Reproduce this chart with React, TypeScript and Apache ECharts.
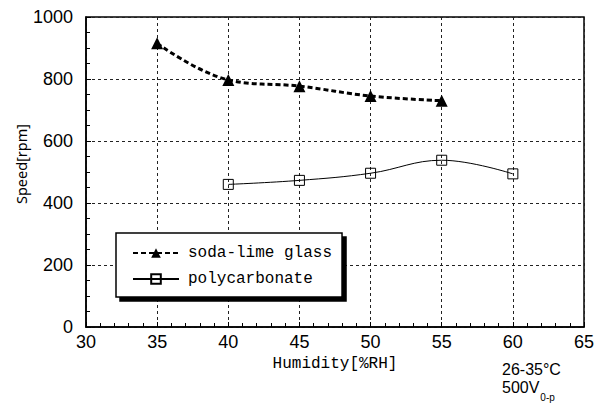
import React, { useEffect, useRef } from "react";
import * as echarts from "echarts";

const humiditySoda = [35, 40, 45, 50, 55];
const speedSoda = [915, 797, 777, 745, 730];
const humidityPoly = [40, 45, 50, 55, 60];
const speedPoly = [460, 473, 496, 538, 494];
const seriesNames = ["soda-lime glass", "polycarbonate"];
const xAxisTitle = "Humidity[%RH]";
const yAxisTitle = "Speed[rpm]";
const noteLines = ["26-35°C", "500V", "0-p"];

const tickFont = "'Liberation Sans', Arial, sans-serif";
const monoFont = "'Liberation Mono', 'DejaVu Sans Mono', monospace";

export default function App() {
  const ref = useRef<HTMLDivElement>(null);
  useEffect(() => {
    if (!ref.current) return;
    const chart = echarts.init(ref.current, undefined, { renderer: "svg" });
    const option: any = {
      animation: false,
      backgroundColor: "#fff",
      grid: {
        left: 86,
        right: 17,
        top: 17,
        bottom: 80,
        show: true,
        borderColor: "#000",
        borderWidth: 1.5,
        backgroundColor: "transparent",
      },
      legend: {
        left: 116,
        top: 233,
        orient: "vertical",
        itemWidth: 46,
        itemHeight: 12,
        itemGap: 10,
        padding: [12, 10, 10, 16],
        backgroundColor: "#fff",
        borderColor: "#000",
        borderWidth: 1.5,
        borderRadius: 0,
        shadowColor: "#000",
        shadowBlur: 0,
        shadowOffsetX: 4,
        shadowOffsetY: 4,
        textStyle: {
          fontFamily: monoFont,
          fontSize: 16,
          color: "#000",
          padding: [0, 0, 0, 4],
        },
        data: seriesNames,
      },
      xAxis: {
        type: "value",
        min: 30,
        max: 65,
        interval: 5,
        name: xAxisTitle,
        nameLocation: "middle",
        nameGap: 25,
        nameTextStyle: { fontFamily: monoFont, fontSize: 16, color: "#000" },
        axisLine: { show: true, lineStyle: { color: "#000", width: 1.5 } },
        axisTick: { show: true, inside: true, length: 5, lineStyle: { color: "#000" } },
        minorTick: { show: true, splitNumber: 5, length: 4, lineStyle: { color: "#000" } },
        axisLabel: { fontFamily: tickFont, fontSize: 18, color: "#000", margin: 6 },
        splitLine: { show: true, lineStyle: { color: "#222", type: [3, 3], width: 1 } },
      },
      yAxis: {
        type: "value",
        min: 0,
        max: 1000,
        interval: 200,
        axisLine: { show: true, lineStyle: { color: "#000", width: 1.5 } },
        axisTick: { show: true, inside: true, length: 5, lineStyle: { color: "#000" } },
        minorTick: { show: true, splitNumber: 4, length: 4, lineStyle: { color: "#000" } },
        axisLabel: {
          fontFamily: tickFont,
          fontSize: 18,
          color: "#000",
          margin: 13,
          formatter: (v: number) => String(v),
        },
        splitLine: { show: true, lineStyle: { color: "#222", type: [3, 3], width: 1 } },
      },
      series: [
        {
          name: seriesNames[0],
          type: "line",
          data: humiditySoda.map((h, i) => [h, speedSoda[i]]),
          smooth: 0.4,
          symbol: "triangle",
          symbolSize: 12,
          itemStyle: { color: "#000" },
          lineStyle: { color: "#000", width: 3, type: [5, 3] },
          z: 3,
        },
        {
          name: seriesNames[1],
          type: "line",
          data: humidityPoly.map((h, i) => [h, speedPoly[i]]),
          smooth: 0.4,
          symbol: "rect",
          symbolSize: 10,
          itemStyle: { color: "rgba(255,255,255,0)", borderColor: "#000", borderWidth: 1 },
          lineStyle: { color: "#000", width: 1, type: "solid" },
          z: 2,
        },
      ],
      graphic: [
        {
          type: "text",
          x: 21,
          y: 164,
          rotation: Math.PI / 2,
          style: {
            text: yAxisTitle,
            fontFamily: "'Noto Sans', 'Open Sans', sans-serif",
            fontSize: 14.5,
            fill: "#000",
            textAlign: "center",
            textVerticalAlign: "middle",
          },
        },
        {
          type: "text",
          x: 502,
          y: 361,
          style: {
            text: `{m|${noteLines[0]}}\n{m|${noteLines[1]}}{sub|${noteLines[2]}}`,
            fontFamily: tickFont,
            fontSize: 16,
            fill: "#000",
            textAlign: "left",
            textVerticalAlign: "top",
            rich: {
              m: {
                fontFamily: tickFont,
                fontSize: 16,
                lineHeight: 18,
                verticalAlign: "top",
                fill: "#000",
              },
              sub: {
                fontFamily: tickFont,
                fontSize: 10,
                lineHeight: 10,
                padding: [13, 0, 0, 1],
                verticalAlign: "top",
                fill: "#000",
              },
            },
          },
        },
      ],
    };
    chart.setOption(option);
    return () => chart.dispose();
  }, []);
  return <div ref={ref} style={{ width: 601, height: 407, position: "absolute", left: 0, top: 0 }} />;
}
